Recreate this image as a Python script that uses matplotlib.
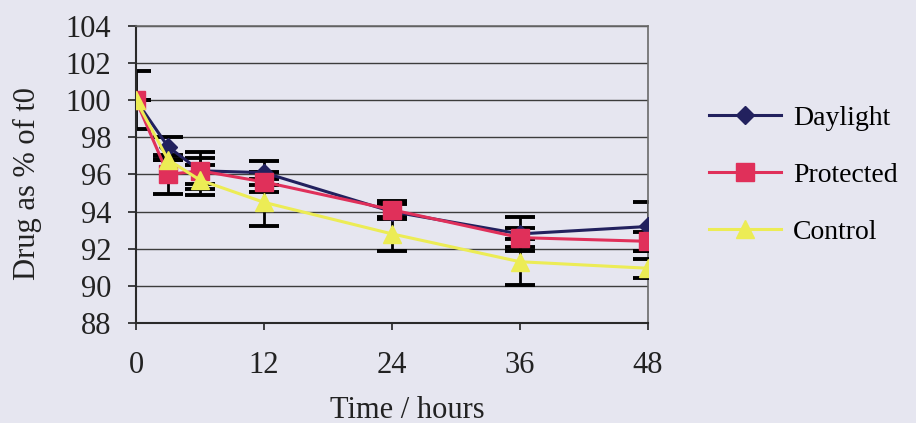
import matplotlib
matplotlib.use("Agg")
import numpy as np
from matplotlib import pyplot as plt

# data
time_h = [0, 3, 6, 12, 24, 36, 48]
daylight = [100.0, 97.5, 96.2, 96.1, 94.0, 92.8, 93.2]
protected = [100.0, 96.0, 96.2, 95.6, 94.1, 92.6, 92.4]
control = [100.0, 96.8, 95.7, 94.5, 92.8, 91.3, 90.95]
daylight_err = [1.55, 0.5, 0.7, 0.65, 0.4, 0.9, 1.3]
protected_err = [0.0, 1.05, 1.0, 0.55, 0.45, 0.5, 0.5]
control_err = [0.0, 0.0, 0.8, 1.25, 0.9, 1.25, 0.5]
series_names = ["Daylight", "Protected", "Control"]
x_ticks = [0, 12, 24, 36, 48]
y_ticks = list(range(88, 105, 2))

BG = "#e6e6f0"
COLORS = {"Daylight": "#22215e", "Protected": "#e0305a", "Control": "#ecec55"}
MARKERS = {"Daylight": ("D", 9.5), "Protected": ("s", 12.5), "Control": ("^", 12.5)}

plt.rcParams["font.family"] = ["Liberation Serif", "DejaVu Serif"]
plt.rcParams["font.size"] = 22


def main():
    fig = plt.figure(figsize=(9.16, 4.23), dpi=100)
    fig.patch.set_facecolor(BG)
    ax = fig.add_axes([136 / 916, 1 - 323 / 423, 512 / 916, 297 / 423])
    ax.set_facecolor(BG)

    values = {"Daylight": daylight, "Protected": protected, "Control": control}
    errs = {"Daylight": daylight_err, "Protected": protected_err, "Control": control_err}

    for i, name in enumerate(series_names):
        ax.errorbar(
            time_h, values[name], yerr=errs[name], fmt="none",
            ecolor="black", elinewidth=2.0, capsize=11, capthick=2.8, zorder=2 + i,
        )
    for i, name in enumerate(series_names):
        m, ms = MARKERS[name]
        ax.plot(
            time_h, values[name], color=COLORS[name], lw=2.2, marker=m,
            markersize=ms, markeredgecolor=COLORS[name], label=name, zorder=5 + i,
        )

    ax.set_xlim(0, 48)
    ax.set_ylim(88, 104)
    ax.set_xticks(x_ticks)
    ax.set_yticks(y_ticks)
    ax.yaxis.grid(True, color="#3c3c3c", lw=1.0)
    ax.set_axisbelow(True)
    ax.tick_params(axis="x", direction="out", length=5, width=1.2, pad=15.5,
                   colors="#222222")
    ax.tick_params(axis="y", direction="out", length=6, width=1.2, pad=12,
                   colors="#222222")
    for side in ["left", "bottom"]:
        ax.spines[side].set_color("#2a2a2a")
        ax.spines[side].set_linewidth(1.5)
    for side in ["top", "right"]:
        ax.spines[side].set_color("#6a6a6a")
        ax.spines[side].set_linewidth(1.2)

    ax.set_xlabel("Time / hours", va="center", color="#222222")
    ax.xaxis.set_label_coords(0.529, -0.293)
    ax.set_ylabel("Drug as % of t0", va="center", color="#222222")
    ax.yaxis.set_label_coords(-0.211, 0.471)

    ax.legend(
        loc="center left", bbox_to_anchor=(695 / 916, 1 - 175 / 423),
        bbox_transform=fig.transFigure, frameon=False, borderpad=0,
        fontsize=20, handlelength=2.6, handletextpad=0.43, labelspacing=1.14,
    )

    fig.savefig("out.png", dpi=100, facecolor=BG)


if __name__ == "__main__":
    main()
